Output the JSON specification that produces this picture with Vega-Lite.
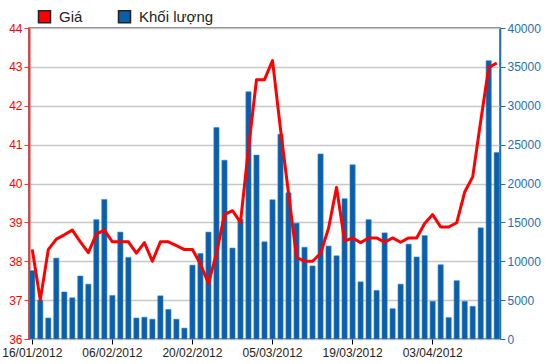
{
  "$schema": "https://vega.github.io/schema/vega-lite/v6.json",
  "width": 471,
  "height": 311,
  "autosize": "none",
  "padding": {"left": 29, "top": 28, "right": 50, "bottom": 25},
  "background": "white",
  "config": {"view": {"stroke": "#555555", "strokeWidth": 1.5}, "font": "Liberation Sans"},
  "data": {"values": [
    {"d": "16/01/2012", "p": 38.3, "v": 8800},
    {"d": "17/01/2012", "p": 37.0, "v": 5000},
    {"d": "18/01/2012", "p": 38.3, "v": 2700},
    {"d": "19/01/2012", "p": 38.57, "v": 10400},
    {"d": "20/01/2012", "p": 38.68, "v": 6050},
    {"d": "30/01/2012", "p": 38.8, "v": 5300},
    {"d": "31/01/2012", "p": 38.5, "v": 8100},
    {"d": "01/02/2012", "p": 38.22, "v": 7050},
    {"d": "02/02/2012", "p": 38.7, "v": 15350},
    {"d": "03/02/2012", "p": 38.8, "v": 17950},
    {"d": "06/02/2012", "p": 38.5, "v": 5600},
    {"d": "07/02/2012", "p": 38.5, "v": 13750},
    {"d": "08/02/2012", "p": 38.5, "v": 10500},
    {"d": "09/02/2012", "p": 38.21, "v": 2700},
    {"d": "10/02/2012", "p": 38.48, "v": 2800},
    {"d": "13/02/2012", "p": 38.0, "v": 2550},
    {"d": "14/02/2012", "p": 38.5, "v": 5550},
    {"d": "15/02/2012", "p": 38.5, "v": 3800},
    {"d": "16/02/2012", "p": 38.4, "v": 2550},
    {"d": "17/02/2012", "p": 38.3, "v": 1400},
    {"d": "20/02/2012", "p": 38.3, "v": 9500},
    {"d": "21/02/2012", "p": 37.93, "v": 11000},
    {"d": "22/02/2012", "p": 37.43, "v": 13750},
    {"d": "23/02/2012", "p": 38.2, "v": 27200},
    {"d": "24/02/2012", "p": 39.2, "v": 23000},
    {"d": "27/02/2012", "p": 39.3, "v": 11700},
    {"d": "28/02/2012", "p": 39.0, "v": 15400},
    {"d": "29/02/2012", "p": 40.9, "v": 31800},
    {"d": "01/03/2012", "p": 42.67, "v": 23650},
    {"d": "02/03/2012", "p": 42.67, "v": 12500},
    {"d": "05/03/2012", "p": 43.16, "v": 17900},
    {"d": "06/03/2012", "p": 41.4, "v": 26350},
    {"d": "07/03/2012", "p": 39.75, "v": 18800},
    {"d": "08/03/2012", "p": 38.1, "v": 14900},
    {"d": "09/03/2012", "p": 38.0, "v": 11800},
    {"d": "12/03/2012", "p": 38.0, "v": 9400},
    {"d": "13/03/2012", "p": 38.2, "v": 23800},
    {"d": "14/03/2012", "p": 38.85, "v": 11950},
    {"d": "15/03/2012", "p": 39.9, "v": 10700},
    {"d": "16/03/2012", "p": 38.52, "v": 18050},
    {"d": "19/03/2012", "p": 38.6, "v": 22400},
    {"d": "20/03/2012", "p": 38.48, "v": 7350},
    {"d": "21/03/2012", "p": 38.6, "v": 15350},
    {"d": "22/03/2012", "p": 38.6, "v": 6250},
    {"d": "23/03/2012", "p": 38.49, "v": 13650},
    {"d": "26/03/2012", "p": 38.6, "v": 3900},
    {"d": "27/03/2012", "p": 38.49, "v": 7050},
    {"d": "28/03/2012", "p": 38.6, "v": 12200},
    {"d": "29/03/2012", "p": 38.6, "v": 10550},
    {"d": "30/03/2012", "p": 38.97, "v": 13300},
    {"d": "03/04/2012", "p": 39.2, "v": 4850},
    {"d": "04/04/2012", "p": 38.88, "v": 9550},
    {"d": "05/04/2012", "p": 38.88, "v": 2750},
    {"d": "06/04/2012", "p": 38.99, "v": 7500},
    {"d": "09/04/2012", "p": 39.78, "v": 4850},
    {"d": "10/04/2012", "p": 40.17, "v": 4200},
    {"d": "11/04/2012", "p": 41.6, "v": 14300},
    {"d": "12/04/2012", "p": 42.98, "v": 35800},
    {"d": "13/04/2012", "p": 43.1, "v": 24000}
  ]},
  "layer": [
    {
      "mark": {"type": "bar", "stroke": "#3b86cc", "strokeWidth": 0.6},
      "encoding": {
        "x": {
          "field": "d", "type": "ordinal", "sort": null,
          "scale": {"paddingInner": 0.35, "paddingOuter": 0.085},
          "axis": {
            "title": null, "labelAngle": 0, "domain": false, "grid": false,
            "values": ["16/01/2012", "06/02/2012", "20/02/2012", "05/03/2012", "19/03/2012", "03/04/2012"],
            "bandPosition": 0.5, "tickColor": "#000000", "tickSize": 5, "tickWidth": 1,
            "labelColor": "#222222", "labelFontSize": 12, "labelFont": "Liberation Sans", "labelPadding": 3
          }
        },
        "y": {
          "field": "v", "type": "quantitative",
          "scale": {"domain": [0, 40000], "nice": false},
          "axis": {
            "orient": "right", "title": null, "grid": false,
            "values": [0, 5000, 10000, 15000, 20000, 25000, 30000, 35000, 40000],
            "format": "d",
            "labelColor": "#1f6fb0", "domainColor": "#1f6fb0", "tickColor": "#1f6fb0",
            "domainWidth": 1.5, "tickSize": 5, "labelFontSize": 12, "labelFont": "Liberation Sans", "labelPadding": 2
          }
        },
        "color": {
          "datum": "Khối lượng", "type": "nominal",
          "scale": {"domain": ["Giá", "Khối lượng"], "range": ["#ff0000", "#0b5ea8"]},
          "legend": {
            "orient": "none", "legendX": 8, "legendY": -19, "direction": "horizontal",
            "title": null, "symbolType": "square", "symbolSize": 144,
            "symbolStrokeColor": "#222222", "symbolStrokeWidth": 1.5, "symbolOpacity": 1,
            "labelFontSize": 15, "labelColor": "#222222", "labelFont": "Liberation Sans",
            "columnPadding": 32, "labelOffset": 7, "padding": 0
          }
        }
      }
    },
    {
      "mark": {"type": "line", "color": "#ff0000", "strokeWidth": 3, "strokeJoin": "round"},
      "encoding": {
        "x": {"field": "d", "type": "ordinal", "sort": null},
        "y": {
          "field": "p", "type": "quantitative",
          "scale": {"domain": [36, 44], "nice": false, "zero": false},
          "axis": {
            "orient": "left", "title": null, "grid": true,
            "values": [36, 37, 38, 39, 40, 41, 42, 43, 44],
            "gridColor": "#c8c8c8", "gridWidth": 1.5,
            "labelColor": "#ff0000", "domainColor": "#ff3030", "tickColor": "#ff3030",
            "domainWidth": 2, "tickSize": 5, "labelFontSize": 12, "labelFont": "Liberation Sans", "labelPadding": 2
          }
        }
      }
    }
  ],
  "resolve": {"scale": {"y": "independent"}, "axis": {"y": "independent"}}
}
